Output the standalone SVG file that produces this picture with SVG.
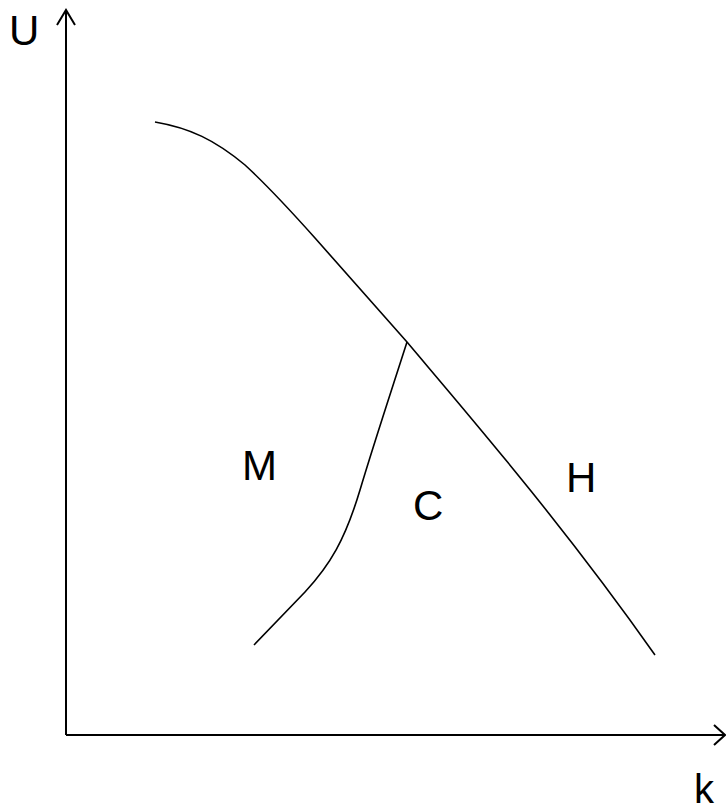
<svg xmlns="http://www.w3.org/2000/svg" width="726" height="812" viewBox="0 0 726 812">
<style>
.ax{fill:none;stroke:#000;stroke-width:2}
.cv{fill:none;stroke:#000;stroke-width:1.6}
text{font-family:"Liberation Sans",Arial,sans-serif;font-size:42px;fill:#000}
</style>
<rect width="726" height="812" fill="#fff"/>
<g id="axes">
<path class="ax" d="M66 735 V10 M57 25 L66 10 L75 25"/>
<path class="ax" d="M66 735 H725 M714 725 L725 735 L714 745"/>
</g>
<g id="curves">
<path class="cv" d="M155 122 C190 128 215 140 245 165 C270 188 290 210 315 238 L407 342 C460 405 560 520 655 655"/>
<path class="cv" d="M407 342 C390 395 375 440 360 490 C345 540 330 565 305 592 L254 645"/>
</g>
<g id="labels">
<text x="694" y="803" style="font-size:40px">k</text>
<text x="9" y="45">U</text>
<text x="242" y="480">M</text>
<text x="413" y="520">C</text>
<text x="566" y="492">H</text>
</g>
</svg>
